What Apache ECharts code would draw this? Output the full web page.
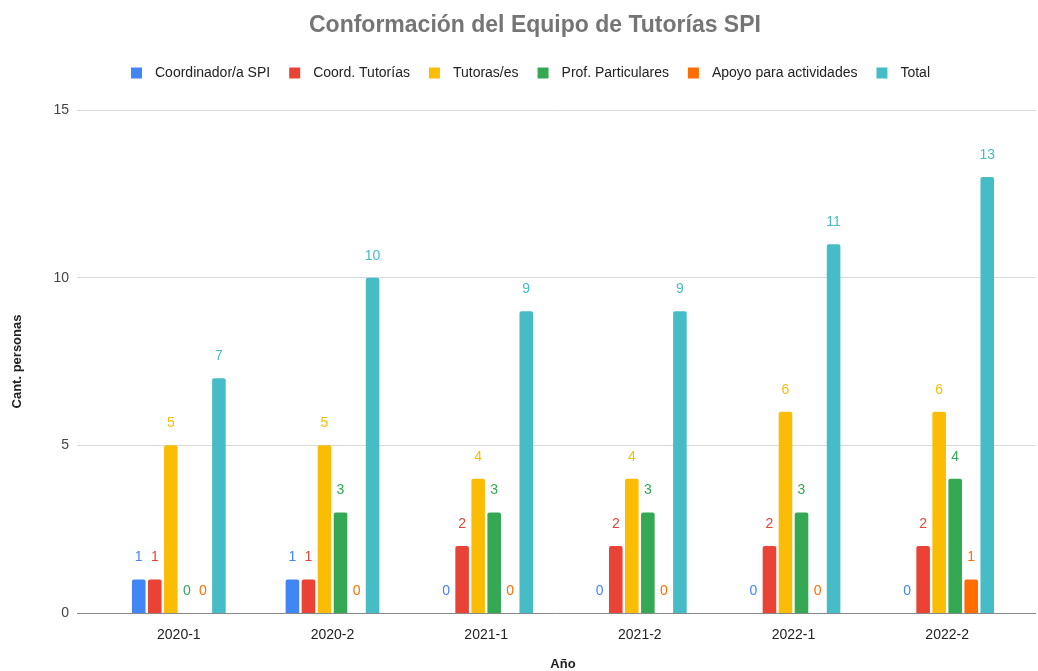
<!DOCTYPE html>
<html><head><meta charset="utf-8">
<script src="https://cdn.jsdelivr.net/npm/echarts@6/dist/echarts.min.js"></script>
<style>html,body{margin:0;padding:0;background:#fff}#c{width:1038px;height:671px}</style>
</head><body><div id="c"></div>
<script>
const categories = ['2020-1','2020-2','2021-1','2021-2','2022-1','2022-2'];
const seriesNames = ['Coordinador/a SPI','Coord. Tutorías','Tutoras/es','Prof. Particulares','Apoyo para actividades','Total'];
const coordSPI = [1,1,0,0,0,0];
const coordTut = [1,1,2,2,2,2];
const tutoras = [5,5,4,4,6,6];
const profPart = [0,3,3,3,3,4];
const apoyo = [0,0,0,0,0,1];
const total = [7,10,9,9,11,13];
const yTicks = [0,5,10,15];
const colors = ['#4285F4','#EA4335','#FBBC04','#34A853','#FF6D01','#46BDC6'];
const values = [coordSPI, coordTut, tutoras, profPart, apoyo, total];
const font = '"Liberation Sans", Arial, sans-serif';

const chart = echarts.init(document.getElementById('c'));
chart.setOption({
  animation:false,
  title:{text:'Conformación del Equipo de Tutorías SPI',left:304,top:9,
    textStyle:{fontFamily:font,fontSize:23,fontWeight:'bold',color:'#757575'}},
  legend:{top:61,left:126,itemWidth:11,itemHeight:11,itemGap:19,icon:'rect',
    textStyle:{fontFamily:font,fontSize:14,color:'#222',padding:[0,0,0,8]},data:seriesNames},
  grid:[
    {left:77,right:2,top:110,bottom:58,outerBoundsMode:'none',containLabel:false},
    {left:102,right:14,top:110,bottom:58,outerBoundsMode:'none',containLabel:false}
  ],
  xAxis:[
    {gridIndex:0,type:'value',show:false,min:0,max:1},
    {gridIndex:1,type:'category',data:categories,
      axisLine:{show:false},axisTick:{show:false},
      axisLabel:{fontFamily:font,fontSize:14,color:'#222',margin:15},
      name:'Año',nameLocation:'middle',nameGap:45,
      nameTextStyle:{fontFamily:font,fontSize:13,fontWeight:'bold',color:'#222'}}
  ],
  yAxis:[
    {gridIndex:0,type:'value',min:0,max:15,interval:5,
      axisLine:{show:false},axisTick:{show:false},
      axisLabel:{fontFamily:font,fontSize:14,color:'#444',margin:8},
      splitLine:{lineStyle:{color:['#888','#d9d9d9','#d9d9d9','#d9d9d9'],width:1}},
      name:'Cant. personas',nameLocation:'middle',nameGap:53,
      nameTextStyle:{fontFamily:font,fontSize:13,fontWeight:'bold',color:'#222'}},
    {gridIndex:1,type:'value',min:0,max:15,interval:5,show:false,splitLine:{show:false}}
  ],
  series: seriesNames.map((n,i)=>({
      name:n,type:'bar',xAxisIndex:1,yAxisIndex:1,data:values[i],
      itemStyle:{color:colors[i],borderRadius:[2,2,0,0]},
      barGap:'18%',barCategoryGap:'39%',
      label:{show:true,position:'top',distance:15,color:colors[i],fontFamily:font,fontSize:14}
    }))
});
</script></body></html>
